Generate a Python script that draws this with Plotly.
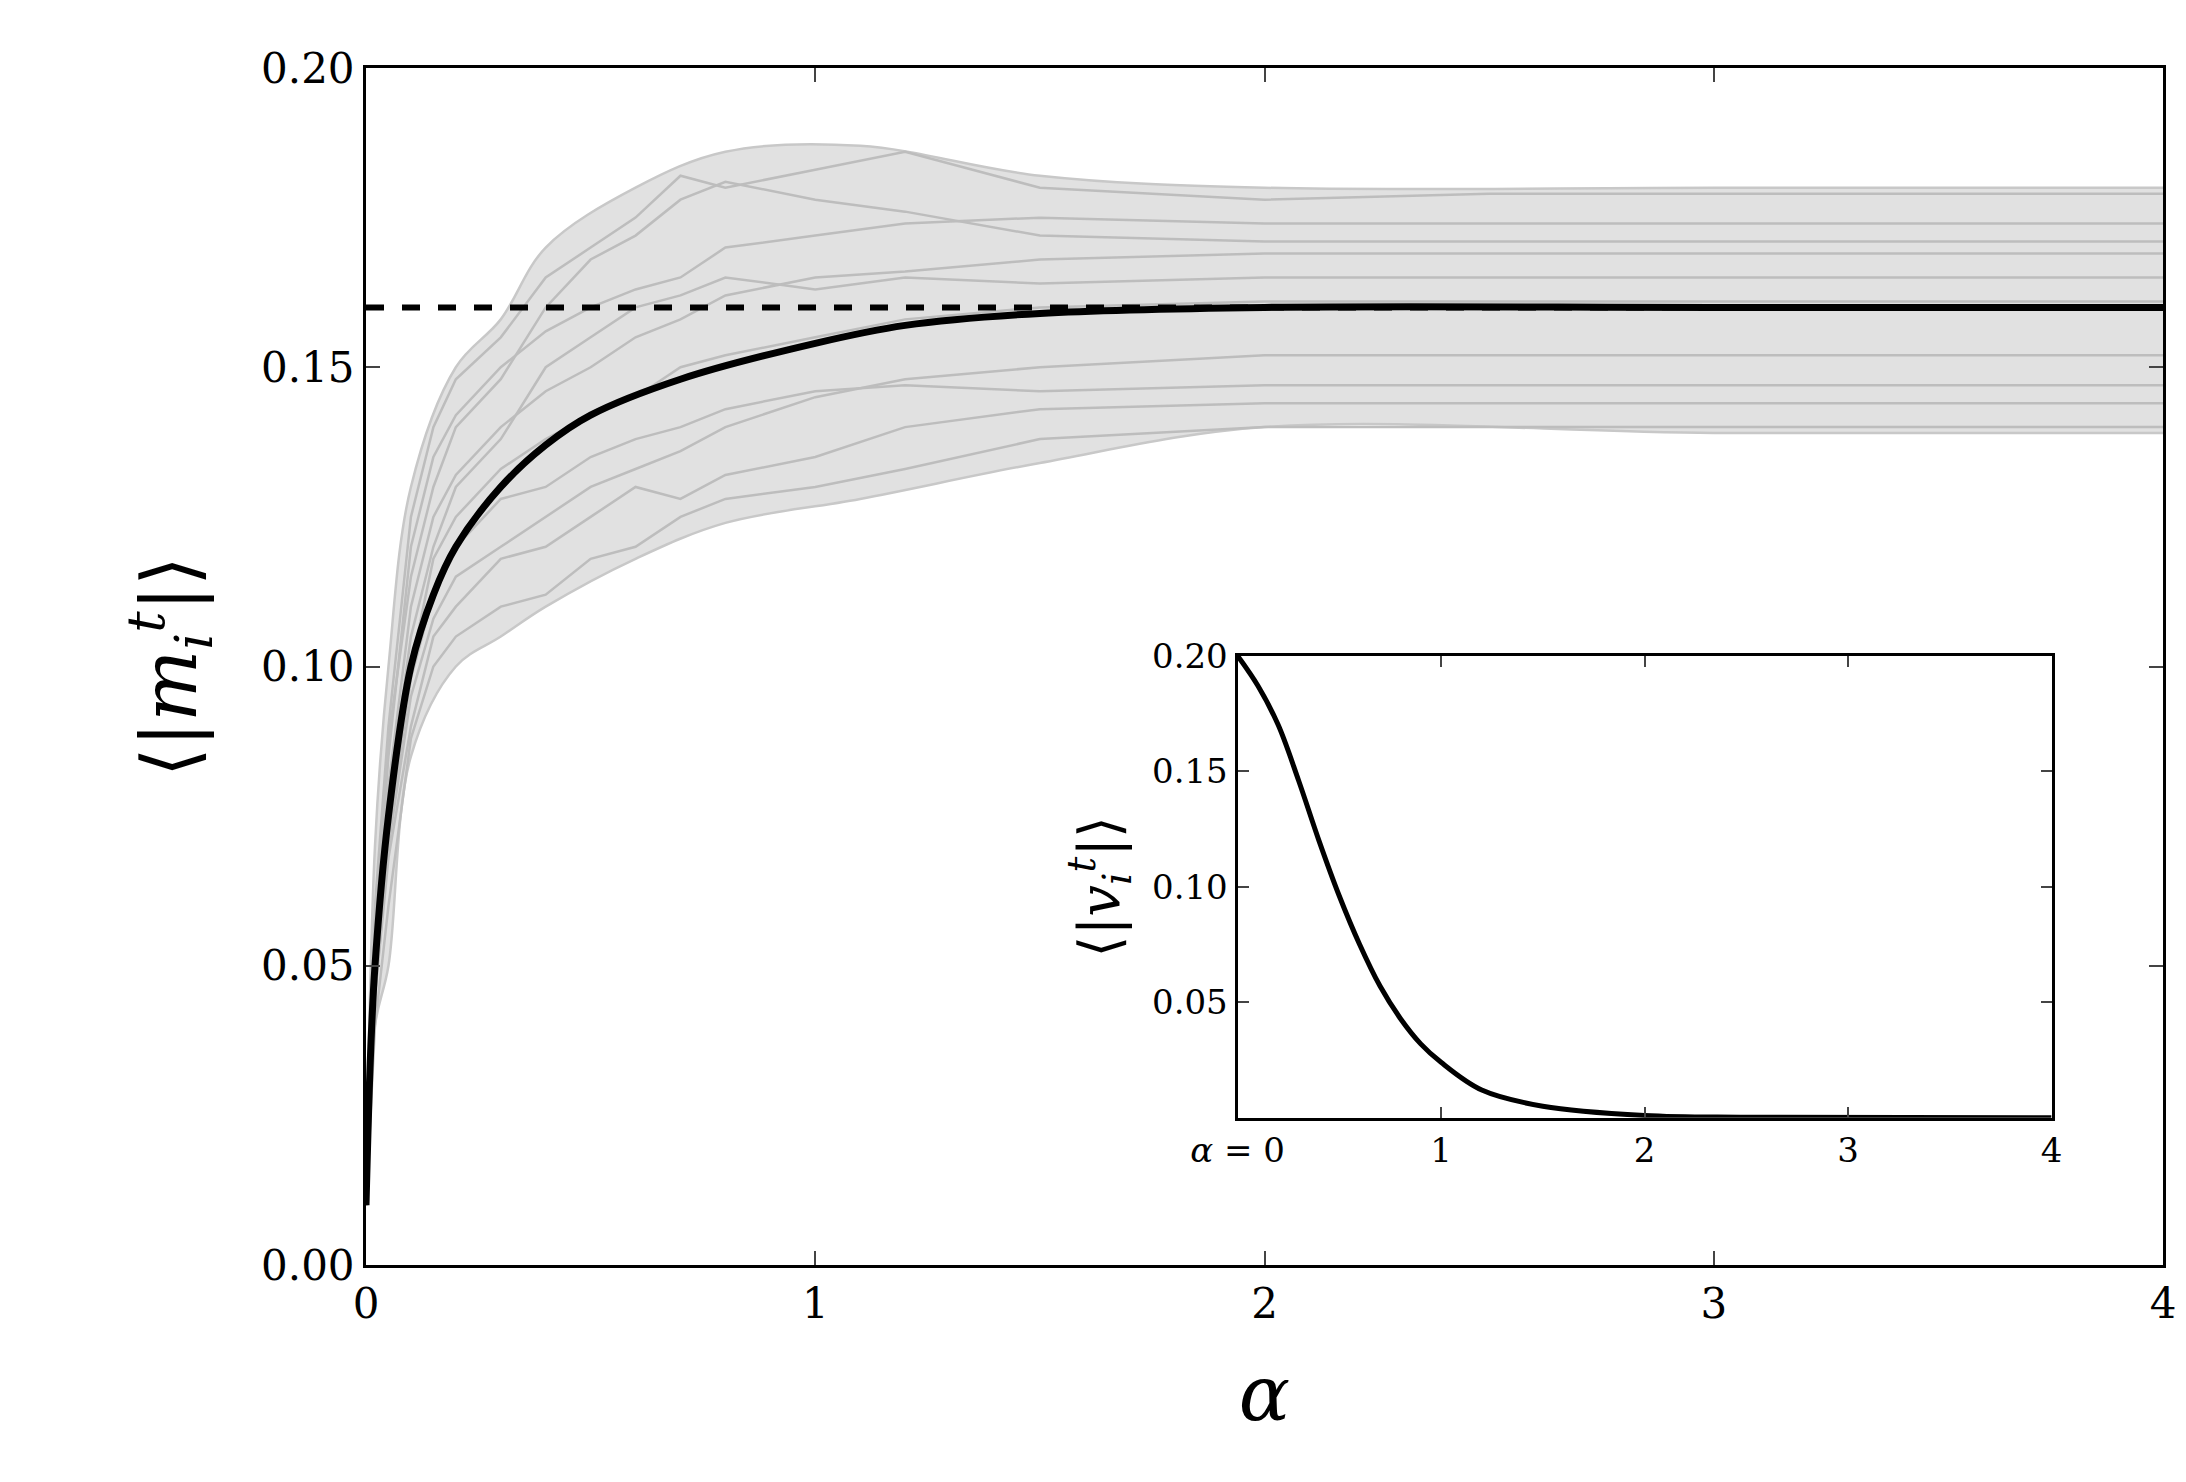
import plotly.graph_objects as go

# mean trajectory
ALPHA_MEAN = [0, 0.01, 0.02, 0.05, 0.1, 0.15, 0.2, 0.3, 0.4, 0.5, 0.7, 1.0, 1.2, 1.5, 2.0, 3.0, 4.0]
M_MEAN = [0.01, 0.035, 0.05, 0.075, 0.1, 0.112, 0.12, 0.13, 0.137, 0.142, 0.148, 0.154, 0.157, 0.159, 0.16, 0.16, 0.16]
M_THEORY = 0.16

# gray band of individual runs
ALPHA_BAND = [0, 0.02, 0.05, 0.1, 0.2, 0.3, 0.4, 0.6, 0.8, 1.1, 1.5, 2.0, 3.0, 4.0]
BAND_UPPER = [0.01, 0.07, 0.1, 0.13, 0.15, 0.158, 0.17, 0.18, 0.186, 0.187, 0.182, 0.18, 0.18, 0.18]
BAND_LOWER = [0.01, 0.04, 0.05, 0.085, 0.1, 0.105, 0.11, 0.118, 0.124, 0.128, 0.134, 0.14, 0.139, 0.139]

ALPHA_RUNS = [0, 0.02, 0.05, 0.1, 0.15, 0.2, 0.3, 0.4, 0.5, 0.6, 0.7, 0.8, 1.0, 1.2, 1.5, 2.0, 2.5, 3.0, 4.0]
RUNS = [
    [0.01, 0.06, 0.09, 0.125, 0.14, 0.148, 0.155, 0.165, 0.17, 0.175, 0.182, 0.18, 0.183, 0.186, 0.18, 0.178, 0.179, 0.179, 0.179],
    [0.01, 0.05, 0.08, 0.11, 0.125, 0.132, 0.14, 0.146, 0.15, 0.155, 0.158, 0.162, 0.165, 0.166, 0.168, 0.169, 0.169, 0.169, 0.169],
    [0.01, 0.045, 0.07, 0.095, 0.108, 0.115, 0.12, 0.125, 0.13, 0.133, 0.136, 0.14, 0.145, 0.148, 0.15, 0.152, 0.152, 0.152, 0.152],
    [0.01, 0.04, 0.06, 0.088, 0.1, 0.105, 0.11, 0.112, 0.118, 0.12, 0.125, 0.128, 0.13, 0.133, 0.138, 0.14, 0.14, 0.14, 0.14],
    [0.01, 0.055, 0.085, 0.12, 0.135, 0.142, 0.15, 0.156, 0.16, 0.163, 0.165, 0.17, 0.172, 0.174, 0.175, 0.174, 0.174, 0.174, 0.174],
    [0.01, 0.05, 0.075, 0.1, 0.118, 0.125, 0.133, 0.138, 0.142, 0.145, 0.15, 0.152, 0.155, 0.158, 0.16, 0.161, 0.161, 0.161, 0.161],
    [0.01, 0.048, 0.072, 0.098, 0.112, 0.12, 0.128, 0.13, 0.135, 0.138, 0.14, 0.143, 0.146, 0.147, 0.146, 0.147, 0.147, 0.147, 0.147],
    [0.01, 0.058, 0.088, 0.115, 0.13, 0.14, 0.148, 0.16, 0.168, 0.172, 0.178, 0.181, 0.178, 0.176, 0.172, 0.171, 0.171, 0.171, 0.171],
    [0.01, 0.045, 0.068, 0.09, 0.105, 0.11, 0.118, 0.12, 0.125, 0.13, 0.128, 0.132, 0.135, 0.14, 0.143, 0.144, 0.144, 0.144, 0.144],
    [0.01, 0.052, 0.078, 0.105, 0.12, 0.13, 0.138, 0.15, 0.155, 0.16, 0.162, 0.165, 0.163, 0.165, 0.164, 0.165, 0.165, 0.165, 0.165],
]

# inset: <|v|>
ALPHA_V = [0, 0.1, 0.2, 0.3, 0.4, 0.5, 0.6, 0.7, 0.8, 0.9, 1.0, 1.2, 1.5, 2.0, 2.5, 4.0]
V_MEAN = [0.2, 0.187, 0.17, 0.146, 0.12, 0.096, 0.075, 0.057, 0.043, 0.032, 0.024, 0.012, 0.005, 0.001, 0.0002, 0.0]

GRAY = "#c8c8c8"
FONT = "DejaVu Serif"

fig = go.Figure()
fig.add_trace(go.Scatter(x=ALPHA_BAND, y=BAND_LOWER, mode="lines", line=dict(color=GRAY, width=2.5, shape="spline"), showlegend=False))
fig.add_trace(go.Scatter(x=ALPHA_BAND, y=BAND_UPPER, mode="lines", fill="tonexty", fillcolor="rgba(205,205,205,0.6)",
                         line=dict(color=GRAY, width=2.5, shape="spline"), showlegend=False))
for r in RUNS:
    fig.add_trace(go.Scatter(x=ALPHA_RUNS, y=r, mode="lines", line=dict(color="#bdbdbd", width=2.5), showlegend=False))
fig.add_trace(go.Scatter(x=[0, 4], y=[M_THEORY, M_THEORY], mode="lines", line=dict(color="black", width=6, dash="dash"), showlegend=False))
fig.add_trace(go.Scatter(x=ALPHA_MEAN, y=M_MEAN, mode="lines", line=dict(color="black", width=7, shape="spline"), showlegend=False))
fig.add_trace(go.Scatter(x=ALPHA_V, y=V_MEAN, mode="lines", line=dict(color="black", width=5, shape="spline"),
                         xaxis="x2", yaxis="y2", showlegend=False))

ax = dict(showline=True, linecolor="black", linewidth=3, mirror="allticks", ticks="inside",
          ticklen=14, tickwidth=2, showgrid=False, zeroline=False)
fig.update_layout(
    width=2186, height=1482, paper_bgcolor="white", plot_bgcolor="white",
    margin=dict(l=358, r=31, t=60, b=225),
    font=dict(family=FONT, size=42, color="black"),
    xaxis=dict(ax, range=[0, 4], tickvals=[0, 1, 2, 3, 4], domain=[0, 1],
               title=dict(text="<i>α</i>", font=dict(size=76), standoff=40)),
    yaxis=dict(ax, range=[0, 0.2], tickvals=[0, 0.05, 0.1, 0.15, 0.2], tickformat=".2f",
               title=dict(text="⟨|<i>m</i><sub><i>i</i></sub><sup><i>t</i></sup>|⟩", font=dict(size=76), standoff=40)),
    xaxis2=dict(ax, range=[0, 4], tickvals=[0, 1, 2, 3, 4], ticktext=["<i>α</i> = 0", "1", "2", "3", "4"],
                domain=[0.485, 0.938], anchor="y2", tickfont=dict(size=34), ticklen=11),
    yaxis2=dict(ax, range=[0, 0.2], tickvals=[0.05, 0.1, 0.15, 0.2], tickformat=".2f",
                domain=[0.123, 0.509], anchor="x2", tickfont=dict(size=34), ticklen=11,
                title=dict(text="⟨|<i>v</i><sub><i>i</i></sub><sup><i>t</i></sup>|⟩", font=dict(size=56), standoff=15)),
)
fig.add_shape(type="rect", xref="x2 domain", yref="y2 domain", x0=0, x1=1, y0=0, y1=1,
              fillcolor="white", line=dict(width=0), layer="below")
fig.write_html("out.html")
